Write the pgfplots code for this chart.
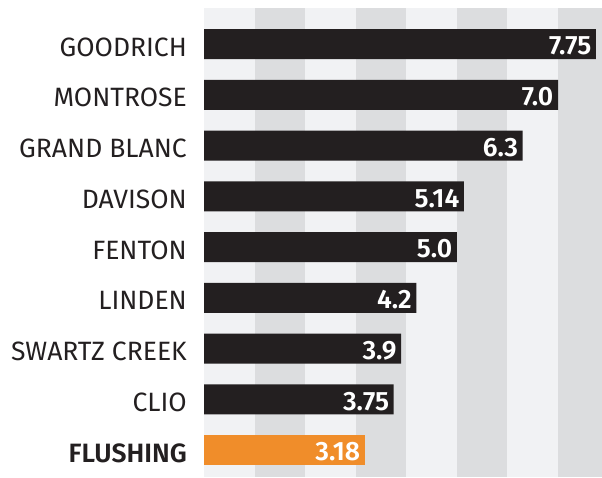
\documentclass[border=0pt]{standalone}
\usepackage{pgfplots}
\pgfplotsset{compat=1.18}
\usepackage{fontspec}
\setmainfont{Fira Sans}[BoldFont={Fira Sans SemiBold}]
\definecolor{bardark}{HTML}{231F20}
\definecolor{barorange}{HTML}{F08D2A}
\definecolor{stripelight}{HTML}{F1F2F4}
\definecolor{stripedark}{HTML}{DCDDDF}
\begin{document}
\begin{tikzpicture}[x=1pt,y=1pt]
\begin{axis}[
  at={(204pt,1pt)}, anchor=south west,
  scale only axis, width=398pt, height=469pt,
  xmin=0, xmax=7.87, ymin=-0.53, ymax=8.71,
  axis line style={draw=none},
  axis background/.style={fill=stripelight},
  xtick=\empty,
  ytick={0,1,2,3,4,5,6,7,8},
  yticklabels={\textbf{FLUSHING},CLIO,SWARTZ CREEK,LINDEN,FENTON,DAVISON,GRAND BLANC,MONTROSE,GOODRICH},
  major tick length=0pt,
  yticklabel style={font=\fontsize{26.5}{30}\selectfont, text=bardark, anchor=east, inner sep=0pt, xshift=-17pt, yshift=-3pt},
  xbar, bar width=0.59, bar shift=0pt,
  point meta=explicit symbolic,
  nodes near coords,
  every node near coord/.append style={anchor=east, font=\fontsize{26.5}{30}\selectfont\bfseries, text=white, inner sep=0pt, xshift=-4.5pt, yshift=-2pt},
  clip=false,
]
\fill[stripedark] (axis cs:1,-0.53) rectangle (axis cs:2,8.71);
\fill[stripedark] (axis cs:3,-0.53) rectangle (axis cs:4,8.71);
\fill[stripedark] (axis cs:5,-0.53) rectangle (axis cs:6,8.71);
\fill[stripedark] (axis cs:7,-0.53) rectangle (axis cs:7.87,8.71);
\addplot[fill=bardark, draw=none] table[meta=label] {
x y label
3.75 1 3.75
3.9 2 3.9
4.2 3 4.2
5.0 4 5.0
5.14 5 5.14
6.3 6 6.3
7.0 7 7.0
7.75 8 7.75
};
\addplot[fill=barorange, draw=none] table[meta=label] {
x y label
3.18 0 3.18
};
\end{axis}
\pgfresetboundingbox
\path[use as bounding box] (0,0) rectangle (602,478);
\end{tikzpicture}
\end{document}
